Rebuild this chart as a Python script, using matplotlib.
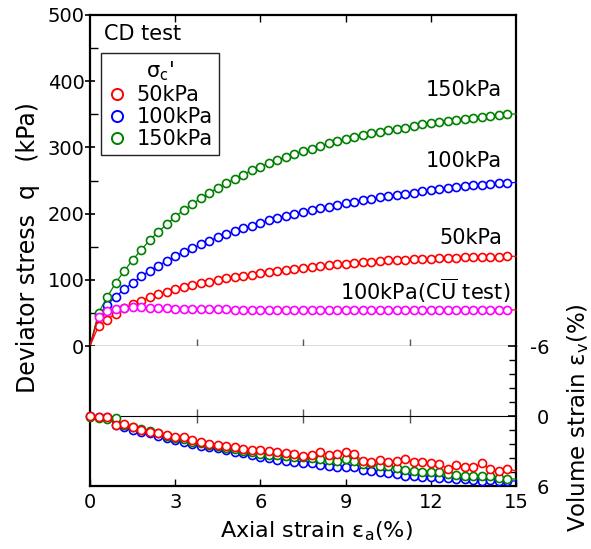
import matplotlib
matplotlib.use('Agg')
import matplotlib.pyplot as plt
from matplotlib.lines import Line2D
from matplotlib.ticker import FixedLocator, NullFormatter

plt.rcParams['font.family'] = ['DejaVu Sans']
plt.rcParams['mathtext.fontset'] = 'dejavusans'
plt.rcParams['axes.unicode_minus'] = False

# ---------------- data ----------------
strain = [0.0, 0.3, 0.6, 0.9, 1.2, 1.5, 1.8, 2.1, 2.4, 2.7,
          3.0, 3.3, 3.6, 3.9, 4.2, 4.5, 4.8, 5.1, 5.4, 5.7,
          6.0, 6.3, 6.6, 6.9, 7.2, 7.5, 7.8, 8.1, 8.4, 8.7,
          9.0, 9.3, 9.6, 9.9, 10.2, 10.5, 10.8, 11.1, 11.4, 11.7,
          12.0, 12.3, 12.6, 12.9, 13.2, 13.5, 13.8, 14.1, 14.4, 14.7, 15.0]

# deviator stress q (kPa)
q_150 = [0, 50, 73.5, 95, 113, 130, 145, 160, 172, 184,
         195, 205.5, 214.5, 223, 231, 239, 246, 252, 259, 265.5,
         271, 276, 281, 286, 290, 295, 298, 302, 306, 309,
         312, 315, 318, 321, 323, 326, 328, 330, 332, 335,
         336.5, 338.5, 340, 342, 343.5, 345, 346.5, 347.5, 349, 350, 350.5]
q_100 = [0, 47, 62, 74.5, 85.5, 95.5, 105, 114, 121.5, 128.5,
         136, 142, 147.5, 153.5, 159, 164, 169, 173.5, 178, 182,
         186, 190, 193.5, 197, 200, 203, 205.5, 208, 210.5, 213.5,
         216, 218, 220.5, 222.5, 224.5, 226.5, 228.5, 230, 231.5, 233.5,
         235, 237, 238.5, 240, 241, 242.5, 243.5, 244.5, 245.5, 246.5, 247]
q_50 = [0, 30, 40, 49, 57, 63.5, 68.5, 73.5, 78, 82,
        85.5, 88.5, 91.5, 94.5, 97, 99.5, 102, 104, 106, 108,
        110, 112, 113.5, 115, 116.5, 118, 119.5, 121, 122, 123.5,
        124.5, 125.5, 126.5, 127.5, 128.5, 129.5, 130, 130.5, 131, 131.5,
        132, 132.5, 133, 133.5, 134, 134, 134.5, 135, 135, 135.5, 135.5]
q_cu = [0, 44, 53, 55.5, 57, 58.5, 58.5, 58, 57.5, 57,
        56.5, 56, 56, 55.5, 55.5, 55.5, 55.5, 55, 55, 55,
        55, 55, 55, 55, 55, 55, 55, 55, 55, 55,
        55, 55, 55, 54.5, 54.5, 54.5, 54.5, 54.5, 54.5, 54.5,
        54.5, 54.5, 54.5, 54.5, 54.5, 54.5, 54.5, 54.5, 54.5, 54.5, 54.5]

# volume strain (%)
ev_50 = [0.0, 0.05, 0.05, 0.74, 0.72, 0.95, 1.17, 1.34, 1.43, 1.63,
         1.77, 1.83, 2.08, 2.26, 2.37, 2.46, 2.54, 2.63, 2.83, 2.91,
         2.94, 3.03, 3.11, 3.2, 3.28, 3.4, 3.31, 3.11, 3.31, 3.25,
         3.11, 3.26, 3.83, 3.97, 3.74, 3.91, 3.83, 3.68, 3.97, 3.91,
         4.03, 4.11, 4.54, 4.2, 4.4, 4.4, 4.06, 4.54, 4.68, 4.54, 4.7]
ev_100 = [0.0, 0.08, 0.12, 0.75, 0.97, 1.17, 1.34, 1.49, 1.69, 1.89,
          2.06, 2.2, 2.4, 2.54, 2.69, 2.74, 2.89, 3.06, 3.2, 3.34,
          3.49, 3.63, 3.77, 3.83, 3.91, 4.06, 4.06, 4.17, 4.26, 4.4,
          4.34, 4.4, 4.6, 4.68, 4.83, 4.91, 4.97, 5.11, 5.11, 5.2,
          5.26, 5.31, 5.34, 5.4, 5.4, 5.49, 5.54, 5.49, 5.6, 5.57, 5.57]
ev_150 = [0.1, 0.2, 0.22, 0.15, 0.8, 0.95, 1.11, 1.3, 1.45, 1.7,
          1.85, 1.98, 2.2, 2.35, 2.5, 2.6, 2.72, 2.85, 3.0, 3.12,
          3.22, 3.3, 3.38, 3.45, 3.5, 3.55, 3.6, 3.68, 3.8, 3.83,
          3.68, 3.83, 4.11, 4.06, 4.31, 4.26, 4.49, 4.6, 4.68, 4.77,
          4.83, 4.83, 4.97, 5.06, 5.11, 5.11, 5.17, 5.11, 5.3, 5.4, 5.4]

series_labels = ['50kPa', '100kPa', '150kPa']
colors = {'50kPa': '#ff0000', '100kPa': '#0000ff', '150kPa': '#008000', 'CU': '#ff00ff'}

# ---------------- figure ----------------
W, H = 591, 549
fig = plt.figure(figsize=(W / 100, H / 100), dpi=100)
L = 90 / W
AW = (516 - 90) / W
ax1 = fig.add_axes([L, (H - 346) / H, AW, (346 - 15) / H])
ax2 = fig.add_axes([L, (H - 486) / H, AW, (486 - 346) / H])

MS = 5.8
MEW = 1.2
LW = 0.9
FS = 14      # tick labels
FT = 15      # annotations / legend

def curve(ax, y, col, mev, lcol=None, z=3):
    ax.plot(strain, y, color=lcol or col, lw=LW, marker='o', ms=MS, mew=MEW,
            mfc='white', mec=col, markevery=mev, clip_on=False, zorder=z)

# top panel
curve(ax1, q_100, colors['100kPa'], slice(1, 50))
curve(ax1, q_150, colors['150kPa'], slice(1, 50))
curve(ax1, q_50, colors['50kPa'], slice(1, 50))
curve(ax1, q_cu, colors['CU'], slice(1, 50), lcol='#ff0000', z=4)

ax1.set_xlim(0, 15)
ax1.set_ylim(0, 500)
ax1.yaxis.set_major_locator(FixedLocator([0, 100, 200, 300, 400, 500]))
ax1.yaxis.set_minor_locator(FixedLocator([50, 150, 250, 350, 450]))
ax1.tick_params(axis='y', which='major', direction='inout', length=7, width=1.2,
                labelsize=FS, pad=0.5, right=False)
ax1.tick_params(axis='y', which='minor', direction='in', length=5.5, width=1.0, right=False)
ax1.xaxis.set_major_locator(FixedLocator([3.75, 7.5, 11.25]))
ax1.xaxis.set_minor_locator(FixedLocator([]))
ax1.tick_params(axis='x', which='major', direction='in', length=5, width=1.0,
                color='#555555', labelbottom=False, top=False)
for s in ['left', 'top', 'right']:
    ax1.spines[s].set_linewidth(1.6)
ax1.spines['bottom'].set_color('#555555')
ax1.spines['bottom'].set_linewidth(1.0)

sec_top = ax1.secondary_xaxis('top')
sec_top.xaxis.set_major_locator(FixedLocator([3, 6, 9, 12]))
sec_top.xaxis.set_major_formatter(NullFormatter())
sec_top.tick_params(axis='x', direction='in', length=5, width=1.0)
sec_top.spines['top'].set_visible(False)

ax1.text(14.5, 387, '150kPa', ha='right', va='center', fontsize=FT)
ax1.text(14.5, 279, '100kPa', ha='right', va='center', fontsize=FT)
ax1.text(14.5, 163, '50kPa', ha='right', va='center', fontsize=FT)
ax1.text(14.8, 83, r'100kPa(C$\overline{\mathrm{U}}$ test)', ha='right', va='center', fontsize=FT)
ax1.text((104 - 90) / 426, 1 - (34 - 15) / 331, 'CD test', transform=ax1.transAxes,
         ha='left', va='center', fontsize=FT)

handles = [Line2D([], [], ls='none', marker='o', ms=8, mew=1.4, mfc='white',
                  mec=colors[k]) for k in series_labels]
leg = ax1.legend(handles, series_labels, loc='upper left',
                 bbox_to_anchor=((101 - 90) / 426, 1 - (53 - 15) / 331),
                 borderaxespad=0, frameon=True, fancybox=False, framealpha=1,
                 edgecolor='#222222', fontsize=FT, title=r"$\mathrm{\sigma}_\mathrm{c}$'",
                 title_fontsize=FT, handlelength=0.9, handletextpad=0.5,
                 labelspacing=0.1, borderpad=0.3)
leg.get_frame().set_linewidth(1.0)

# bottom panel
curve(ax2, ev_100, colors['100kPa'], slice(0, 50))
curve(ax2, ev_150, colors['150kPa'], slice(0, 50))
curve(ax2, ev_50, colors['50kPa'], slice(0, 50))

ax2.set_xlim(0, 15)
ax2.set_ylim(6, -6)
ax2.xaxis.set_major_locator(FixedLocator([0, 3, 6, 9, 12, 15]))
ax2.tick_params(axis='x', which='major', direction='in', length=5, width=1.0,
                labelsize=FS, pad=5, top=False)
ax2.yaxis.tick_right()
ax2.yaxis.set_major_locator(FixedLocator([-6, 0, 6]))
ax2.yaxis.set_minor_locator(FixedLocator([-4.8, -3.6, -2.4, -1.2, 1.2, 2.4, 3.6, 4.8]))
ax2.set_yticklabels(['-6', '0', '6'])
ax2.tick_params(axis='y', which='major', direction='in', length=6, width=1.2,
                labelsize=FS, pad=24, left=False, right=True)
ax2.tick_params(axis='y', which='minor', direction='in', length=5, width=1.0,
                left=False, right=True)
for lbl in ax2.get_yticklabels():
    lbl.set_ha('right')
for s in ['left', 'bottom', 'right']:
    ax2.spines[s].set_linewidth(1.6)
ax2.spines['top'].set_visible(False)

sec_mid = ax2.secondary_xaxis(0.5)
sec_mid.xaxis.set_major_locator(FixedLocator([3.75, 7.5, 11.25]))
sec_mid.xaxis.set_major_formatter(NullFormatter())
sec_mid.tick_params(axis='x', direction='inout', length=10, width=1.0, color='#555555')
sec_mid.spines['bottom'].set_color('#555555')
sec_mid.spines['bottom'].set_linewidth(1.0)

# axis titles
fig.text(28 / W, 1 - 248 / H, 'Deviator stress  q   (kPa)', rotation=90,
         ha='center', va='center', fontsize=17)
fig.text(316 / W, 1 - 531 / H, r'Axial strain $\mathrm{\varepsilon}_\mathrm{a}$(%)',
         ha='center', va='center', fontsize=16)
fig.text(578 / W, 1 - 418 / H, r'Volume strain $\mathrm{\varepsilon}_\mathrm{v}$(%)', rotation=90,
         ha='center', va='center', fontsize=16.5)

fig.savefig('out.png', dpi=100)
